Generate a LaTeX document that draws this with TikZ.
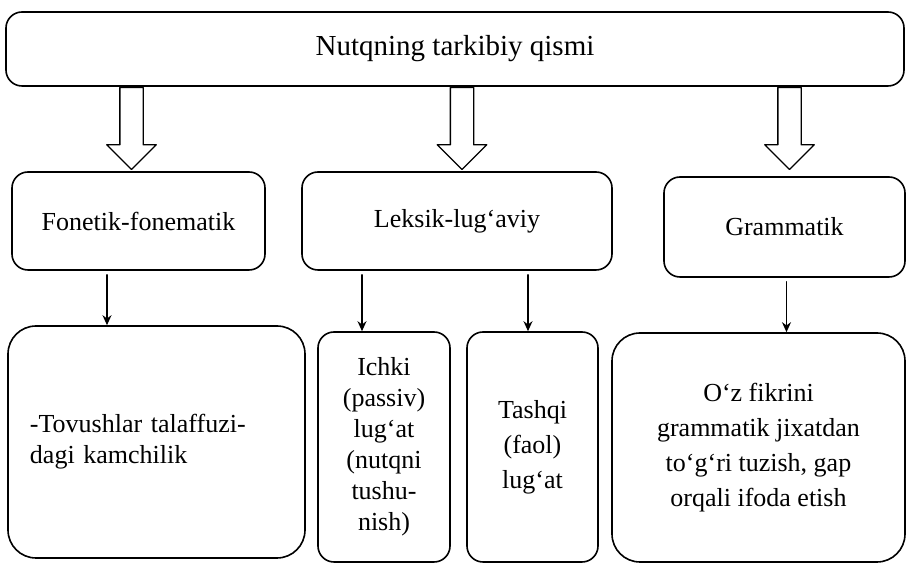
\documentclass[tikz,border=0pt]{standalone}
\usepackage{fontspec}
\setmainfont{Liberation Serif}
\usetikzlibrary{shapes.arrows,arrows.meta,positioning}

\begin{document}
\begin{tikzpicture}[x=0.5pt,y=-0.5pt,line join=round,line cap=round,>={Stealth[length=5pt,width=4.5pt]},
	box/.style={draw,line width=0.8pt,rounded corners=8pt,align=center,font=\fontsize{13}{15.5}\selectfont},
	bigbox/.style={box,rounded corners=14pt},
	hollow/.style={draw,line width=0.7pt,single arrow,rotate=-90,anchor=tail,inner xsep=0pt,inner ysep=5.5pt,
		minimum height=41pt,minimum width=24pt,single arrow head extend=6.5pt,single arrow tip angle=90},
	pointer/.style={->,line width=0.7pt}]
	\useasboundingbox (0,0) rectangle (907,566);
	% sarlavha
	\node[box,minimum width=449pt,minimum height=37pt,font=\fontsize{14.5}{17}\selectfont] (top) at (455,49) {Nutqning tarkibiy qismi};
	% o'rta qator
	\node[box,minimum width=126.5pt,minimum height=49pt] (fon) at (138.5,221) {Fonetik-fonematik};
	\node[box,minimum width=155pt,minimum height=49pt] (lek) at (457,221) {Leksik-lug‘aviy};
	\node[box,minimum width=120.5pt,minimum height=50pt] (gram) at (784.5,227) {Grammatik};
	\node[hollow] (h1) at ([xshift=-3.5pt]top.south -| fon.north) {};
	\node[hollow] (h2) at ([xshift=2.5pt]top.south -| lek.north) {};
	\node[hollow] (h3) at ([xshift=2.5pt]top.south -| gram.north) {};
	% pastki qator
	\node[bigbox,minimum width=148.5pt,minimum height=116pt,align=left,inner xsep=11pt,text width=126.5pt] (tov) at (156.5,442) {-Tovushlar talaffuzi-\\dagi kamchilik};
	\node[box,minimum width=66pt,minimum height=115pt] (ichki) at (384,447) {Ichki\\(passiv)\\lug‘at\\(nutqni\\tushu-\\nish)};
	\node[box,minimum width=65.5pt,minimum height=115pt,font=\fontsize{13}{17.5}\selectfont] (tashqi) at (532.5,447) {Tashqi\\(faol)\\lug‘at};
	\node[bigbox,minimum width=146.5pt,minimum height=114.5pt,font=\fontsize{13}{17.5}\selectfont] (fikr) at (758.5,447.5) {O‘z fikrini\\grammatik jixatdan\\to‘g‘ri tuzish, gap\\orqali ifoda etish};
	\draw[pointer] ([xshift=-15.75pt,yshift=-2pt]fon.south) -- ([xshift=-15.75pt]fon.south |- tov.north);
	\draw[pointer] ([xshift=-47.5pt,yshift=-2pt]lek.south) -- ([xshift=-47.5pt]lek.south |- ichki.north);
	\draw[pointer] ([xshift=35.5pt,yshift=-2pt]lek.south) -- ([xshift=35.5pt]lek.south |- tashqi.north);
	\draw[pointer] ([xshift=1pt,yshift=-2pt]gram.south) -- ([xshift=1pt]gram.south |- fikr.north);
\end{tikzpicture}
\end{document}
